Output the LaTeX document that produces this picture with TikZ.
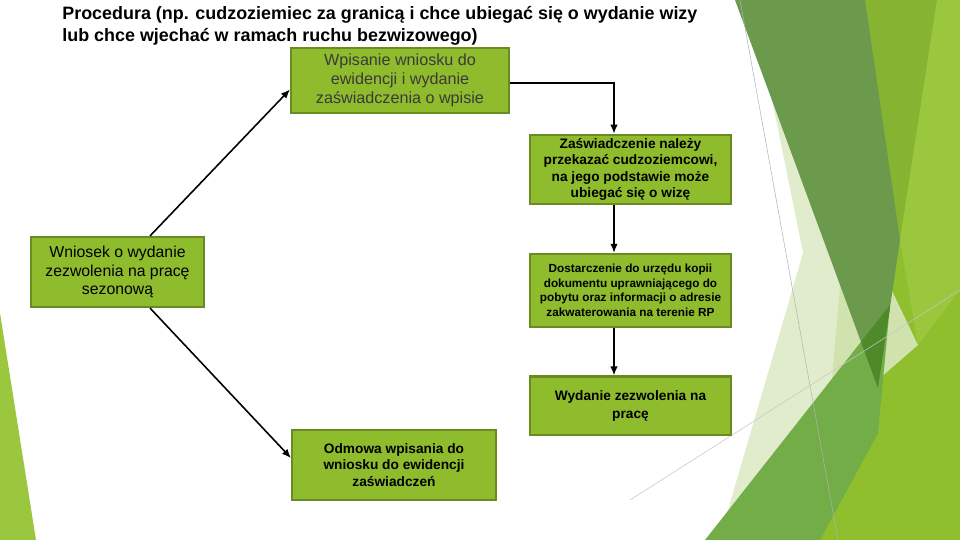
\documentclass[tikz,border=0pt]{standalone}
\usepackage{fontspec}
\setmainfont{Liberation Sans}
\usetikzlibrary{arrows.meta,positioning,calc}
\definecolor{boxfill}{HTML}{8FBC2C}
\definecolor{boxline}{HTML}{6A8A22}
\definecolor{txtgray}{HTML}{3A3A3A}
\definecolor{facetdark}{HTML}{6B9A4C}
\definecolor{facetolive}{HTML}{86B332}
\definecolor{facetlight}{HTML}{9BC73F}
\definecolor{facetpale}{HTML}{DCE9C4}
\definecolor{facetmid}{HTML}{72AD47}
\definecolor{facetdeep}{HTML}{4E8A2A}
\definecolor{facetyel}{HTML}{8FBF2D}
\tikzset{
  krok/.style={rectangle, draw=boxline, line width=1.2pt, fill=boxfill, align=center, inner sep=2pt},
  arr/.style={-{Latex[length=1.8mm,width=1.5mm]}, line width=0.9pt, draw=black},
}

\begin{document}
\begin{tikzpicture}[x=0.02cm, y=-0.02cm, node distance=0.95cm]
     \useasboundingbox (0,0) rectangle (960,540);
     % tlo (facet)
     \fill[facetyel] (865,0) -- (960,0) -- (960,540) -- (818,540) -- cycle;
     \fill[facetolive] (863,0) -- (937,0) -- (900,240) -- cycle;
     \fill[facetlight] (937,0) -- (960,0) -- (960,290) -- (918,345) -- (900,240) -- cycle;
     \fill[facetpale, opacity=0.85] (752,0) -- (803,253) -- (728,510) -- (918,345) -- cycle;
     \fill[facetmid] (705,540) -- (890,305) -- (878,433) -- (820,540) -- cycle;
     \fill[facetdark] (735,0) -- (865,0) -- (900,240) -- (878,388) -- cycle;
     \begin{scope}
       \clip (705,540) -- (890,305) -- (878,433) -- (820,540) -- cycle;
       \fill[facetdeep] (735,0) -- (865,0) -- (900,240) -- (878,388) -- cycle;
     \end{scope}
     \fill[facetlight] (0,313) -- (36,540) -- (0,540) -- cycle;
     \draw[gray!60, line width=0.3pt] (740,0) -- (838,540);
     \draw[gray!45, line width=0.3pt] (630,500) -- (960,290);
     % tytul
     \node[anchor=north west, inner sep=0pt, align=left, font=\bfseries\fontsize{10.2}{12.5}\selectfont] (tytul) at (62,6)
       {Procedura (np. cudzoziemiec za granicą i chce ubiegać się o wydanie wizy\\lub chce wjechać w ramach ruchu bezwizowego)};
     % schemat
     \node[krok, minimum width=4.36cm, minimum height=1.3cm, text=txtgray, font=\fontsize{9.2}{10.8}\selectfont] (wpis) at (400,80.5)
       {Wpisanie wniosku do\\ewidencji i wydanie\\zaświadczenia o wpisie};
     \node[krok, minimum width=3.46cm, minimum height=1.4cm, font=\fontsize{9}{10.5}\selectfont] (wniosek) at (117.5,272)
       {Wniosek o wydanie\\zezwolenia na pracę\\sezonową};
     \node[krok, minimum width=4.08cm, minimum height=1.4cm, font=\bfseries\fontsize{7.8}{9.6}\selectfont] (odmowa) at (394,465)
       {Odmowa wpisania do\\wniosku do ewidencji\\zaświadczeń};
     \node[krok, minimum width=4.02cm, minimum height=1.34cm, font=\bfseries\fontsize{7.8}{9.4}\selectfont] (zaswiad) at (630.5,169.5)
       {Zaświadczenie należy\\przekazać cudzoziemcowi,\\na jego podstawie może\\ubiegać się o wizę};
     \node[krok, minimum width=4.02cm, minimum height=1.46cm, font=\bfseries\fontsize{6.7}{8.2}\selectfont, below=of zaswiad] (dostarcz)
       {Dostarczenie do urzędu kopii\\dokumentu uprawniającego do\\pobytu oraz informacji o adresie\\zakwaterowania na terenie RP};
     \node[krok, minimum width=4.02cm, minimum height=1.18cm, font=\bfseries\fontsize{7.8}{10.2}\selectfont, below=of dostarcz] (wydanie)
       {Wydanie zezwolenia na\\pracę};
     \draw[arr] ([xshift=6.5mm]wniosek.north) -- ([yshift=-1.8mm]wpis.west);
     \draw[arr] ([xshift=6.5mm]wniosek.south) -- ([yshift=1.4mm]odmowa.west);
     \draw[arr] ([yshift=-0.5mm]wpis.east) -| ([xshift=-3.3mm]zaswiad.north);
     \draw[arr] ([xshift=-3.3mm]zaswiad.south) -- ([xshift=-3.3mm]dostarcz.north);
     \draw[arr] ([xshift=-3.3mm]dostarcz.south) -- ([xshift=-3.3mm]wydanie.north);
   \end{tikzpicture}
\end{document}
